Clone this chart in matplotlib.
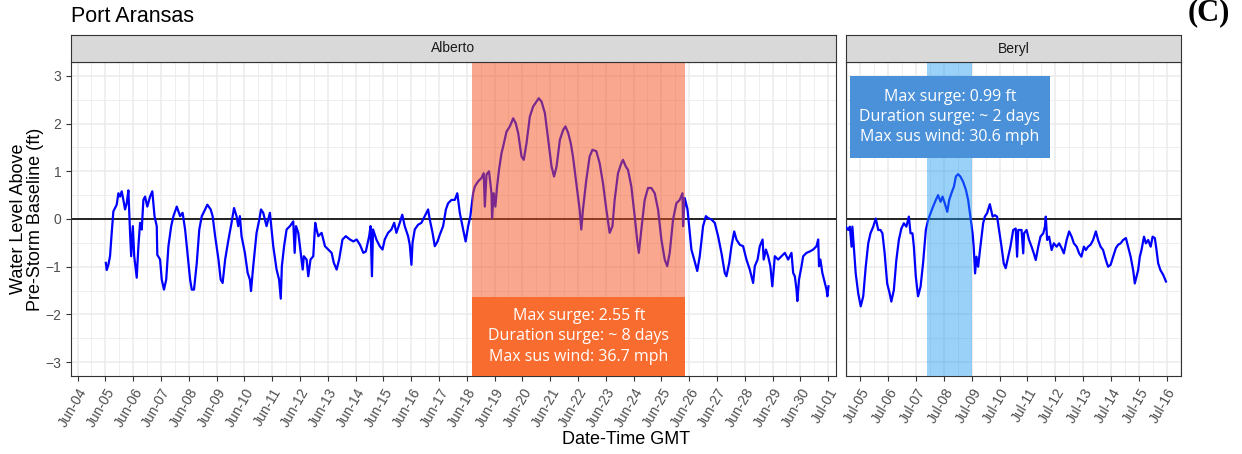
import numpy as np
import pandas as pd
import matplotlib
matplotlib.use("Agg")
import matplotlib.pyplot as plt
import matplotlib.dates as mdates

# water level above pre-storm baseline (ft)
# Alberto: time as fractional day of June 2024 (31 = Jul-01)
alberto_day = [5.02, 5.05, 5.11, 5.17, 5.23, 5.29, 5.41, 5.47, 5.53, 5.59, 5.65, 5.71, 5.77, 5.83, 5.89,
               5.93, 5.99, 6.04, 6.13, 6.19, 6.25, 6.31, 6.37, 6.43, 6.51, 6.61, 6.69, 6.77, 6.85, 6.87,
               6.97, 7.03, 7.11, 7.19, 7.27, 7.37, 7.45, 7.57, 7.69, 7.78, 7.87, 7.93, 8.05, 8.11, 8.19,
               8.29, 8.38, 8.47, 8.59, 8.67, 8.79, 8.86, 8.95, 9.07, 9.15, 9.22, 9.31, 9.43, 9.54, 9.63,
               9.72, 9.78, 9.84, 9.90, 10.02, 10.12, 10.20, 10.24, 10.32, 10.44, 10.54, 10.60, 10.68,
               10.74, 10.80, 10.92, 11.04, 11.16, 11.25, 11.31, 11.35, 11.43, 11.52, 11.64, 11.76, 11.81,
               11.86, 11.94, 12.00, 12.10, 12.14, 12.24, 12.30, 12.38, 12.48, 12.55, 12.60, 12.66, 12.78,
               12.90, 13.02, 13.14, 13.22, 13.32, 13.41, 13.53, 13.65, 13.80, 13.92, 14.04, 14.16, 14.28,
               14.37, 14.49, 14.54, 14.59, 14.63, 14.75, 14.87, 14.97, 15.05, 15.17, 15.29, 15.39, 15.47,
               15.59, 15.68, 15.77, 15.89, 15.95, 16.01, 16.05, 16.13, 16.25, 16.37, 16.49, 16.61, 16.67,
               16.77, 16.85, 16.95, 17.03, 17.15, 17.25, 17.33, 17.45, 17.57, 17.66, 17.75, 17.87, 17.96,
               18.05, 18.13, 18.23, 18.29, 18.41, 18.53, 18.61, 18.65, 18.71, 18.80, 18.89, 18.91, 18.97,
               19.03, 19.09, 19.16, 19.25, 19.31, 19.43, 19.55, 19.67, 19.76, 19.85, 19.97, 20.05, 20.15,
               20.27, 20.39, 20.51, 20.59, 20.69, 20.81, 20.93, 21.05, 21.14, 21.23, 21.35, 21.47, 21.55,
               21.65, 21.74, 21.82, 21.94, 22.06, 22.12, 22.18, 22.30, 22.42, 22.52, 22.66, 22.78, 22.90,
               23.02, 23.14, 23.24, 23.32, 23.44, 23.56, 23.62, 23.72, 23.80, 23.92, 24.04, 24.14, 24.19,
               24.28, 24.40, 24.52, 24.64, 24.76, 24.88, 25.00, 25.12, 25.21, 25.30, 25.42, 25.54, 25.66,
               25.76, 25.78, 25.84, 25.94, 26.02, 26.08, 26.18, 26.29, 26.38, 26.50, 26.60, 26.68, 26.80,
               26.92, 27.04, 27.16, 27.28, 27.34, 27.44, 27.52, 27.62, 27.70, 27.82, 27.94, 28.06, 28.18,
               28.30, 28.36, 28.46, 28.54, 28.64, 28.68, 28.76, 28.84, 28.92, 28.99, 29.08, 29.20, 29.32,
               29.44, 29.56, 29.68, 29.74, 29.80, 29.86, 29.89, 29.95, 30.04, 30.10, 30.22, 30.34, 30.46,
               30.58, 30.64, 30.67, 30.72, 30.79, 30.88, 30.94, 30.97, 31.01]
alberto_ft = [-0.92, -1.07, -0.96, -0.78, -0.29, 0.16, 0.30, 0.54, 0.47, 0.58, 0.40, 0.20, 0.33, 0.60, -0.29,
              -0.78, -0.15, -0.78, -1.23, -0.57, -0.08, -0.22, 0.40, 0.47, 0.26, 0.47, 0.58, 0.06, -0.15, -0.75,
              -0.85, -1.27, -1.48, -1.27, -0.57, -0.15, 0.06, 0.26, 0.06, 0.13, -0.22, -0.57, -1.27, -1.48, -1.48,
              -0.92, -0.22, 0.06, 0.20, 0.30, 0.20, 0.06, -0.36, -0.85, -1.27, -1.34, -0.85, -0.43, -0.08, 0.23,
              0.06, -0.15, 0.06, -0.36, -0.71, -1.13, -1.27, -1.51, -0.99, -0.29, -0.01, 0.20, 0.13,
              -0.01, -0.15, 0.13, -0.57, -1.06, -1.27, -1.67, -0.99, -0.57, -0.22, -0.15, -0.05, -0.71,
              -0.15, -0.29, -0.57, -1.06, -0.78, -0.85, -1.20, -0.85, -0.78, -0.08, -0.22, -0.36, -0.29,
              -0.57, -0.64, -0.71, -0.92, -1.06, -0.85, -0.43, -0.36, -0.43, -0.47, -0.43, -0.54, -0.71,
              -0.68, -0.36, -0.15, -1.20, -0.22, -0.43, -0.57, -0.64, -0.43, -0.29, -0.22, -0.08, -0.29,
              -0.08, 0.09, -0.15, -0.36, -0.54, -0.96, -0.50, -0.22, -0.12, -0.08, 0.06, 0.20, -0.01,
              -0.29, -0.57, -0.47, -0.33, -0.15, 0.20, 0.33, 0.40, 0.40, 0.54, 0.13, -0.22, -0.47,
              -0.15, 0.06, 0.54, 0.68, 0.79, 0.86, 0.96, 0.26, 0.93, 1.00, 0.54, 0.02, 0.54,
              0.26, 0.68, 1.03, 1.38, 1.52, 1.83, 1.94, 2.11, 2.01, 1.80, 1.31, 1.24, 1.59,
              2.15, 2.36, 2.46, 2.53, 2.46, 2.22, 1.66, 1.10, 0.89, 1.10, 1.66, 1.87, 1.94,
              1.80, 1.59, 1.31, 0.75, 0.20, -0.22, 0.20, 0.82, 1.31, 1.45, 1.42, 1.17, 0.75,
              0.20, -0.29, -0.15, 0.40, 0.96, 1.17, 1.24, 1.10, 1.03, 0.68, 0.06, -0.50, -0.71,
              -0.22, 0.40, 0.65, 0.65, 0.54, 0.20, -0.43, -0.85, -0.99, -0.71, -0.01, 0.33, 0.40,
              0.54, -0.15, 0.44, 0.20, -0.29, -0.64, -0.85, -1.09, -0.78, -0.15, 0.06, 0.02, -0.01,
              -0.08, -0.36, -0.71, -1.13, -1.20, -0.92, -0.57, -0.26, -0.43, -0.54, -0.57, -0.85, -1.06,
              -1.34, -0.99, -0.85, -0.57, -0.43, -0.85, -0.64, -0.78, -0.99, -1.41, -0.78, -0.85, -0.78,
              -0.71, -0.85, -0.71, -1.13, -1.20, -1.48, -1.72, -1.27, -0.99, -0.78, -0.71, -0.68, -0.64,
              -0.57, -0.43, -0.99, -0.85, -1.13, -1.34, -1.48, -1.62, -1.41]

# Beryl: time as fractional day of July 2024
beryl_day = [4.47, 4.56, 4.62, 4.68, 4.71, 4.76, 4.83, 4.92, 5.01, 5.10, 5.19, 5.28, 5.36, 5.46, 5.55,
             5.64, 5.72, 5.79, 5.87, 5.96, 6.05, 6.11, 6.20, 6.29, 6.38, 6.47, 6.56, 6.65, 6.74, 6.80,
             6.87, 6.92, 6.99, 7.07, 7.16, 7.25, 7.35, 7.43, 7.52, 7.61, 7.71, 7.79, 7.88, 7.95, 8.03,
             8.12, 8.19, 8.27, 8.36, 8.43, 8.51, 8.59, 8.69, 8.79, 8.87, 8.95, 9.03, 9.07, 9.12, 9.17,
             9.23, 9.31, 9.41, 9.47, 9.55, 9.65, 9.75, 9.83, 9.91, 9.98, 10.07, 10.15, 10.22, 10.31,
             10.39, 10.49, 10.58, 10.63, 10.67, 10.79, 10.85, 10.88, 10.97, 11.06, 11.15, 11.23, 11.30,
             11.39, 11.47, 11.57, 11.63, 11.66, 11.71, 11.78, 11.87, 11.95, 12.05, 12.14, 12.23, 12.31,
             12.41, 12.50, 12.59, 12.67, 12.77, 12.86, 12.94, 13.03, 13.10, 13.18, 13.27, 13.36, 13.46,
             13.54, 13.63, 13.72, 13.82, 13.90, 13.99, 14.08, 14.18, 14.26, 14.35, 14.44, 14.54, 14.62,
             14.71, 14.80, 14.86, 14.92, 14.98, 15.04, 15.10, 15.19, 15.26, 15.34, 15.43, 15.50, 15.58,
             15.64, 15.70, 15.78, 15.88, 15.98]
beryl_ft = [-0.16, -0.23, -0.16, -0.58, -0.16, -0.58, -1.14, -1.56, -1.83, -1.62, -1.00, -0.51, -0.30, -0.16, 0.01,
            -0.23, -0.23, -0.30, -0.72, -1.35, -1.56, -1.73, -1.49, -0.86, -0.44, -0.20, -0.09, -0.16, 0.05, -0.30,
            -0.30, -0.58, -1.21, -1.62, -1.42, -0.93, -0.23, -0.02, 0.12, 0.26, 0.40, 0.50, 0.36, 0.47, 0.33,
            0.15, 0.40, 0.54, 0.68, 0.89, 0.94, 0.89, 0.78, 0.61, 0.40, 0.05, -0.30, -0.58, -1.14, -0.79,
            -1.00, -0.58, -0.09, 0.05, 0.12, 0.31, 0.05, 0.08, 0.05, -0.23, -0.58, -0.93, -1.03, -0.79,
            -0.58, -0.23, -0.20, -0.79, -0.23, -0.23, -0.72, -0.30, -0.23, -0.44, -0.58, -0.72, -0.86,
            -0.58, -0.37, -0.30, -0.16, 0.05, -0.44, -0.37, -0.65, -0.51, -0.58, -0.51, -0.61, -0.72,
            -0.44, -0.26, -0.37, -0.51, -0.58, -0.72, -0.79, -0.58, -0.65, -0.58, -0.54, -0.44, -0.26,
            -0.44, -0.58, -0.65, -0.86, -1.00, -0.96, -0.79, -0.61, -0.54, -0.51, -0.44, -0.40, -0.58,
            -0.79, -1.07, -1.35, -1.21, -1.07, -0.79, -0.65, -0.37, -0.51, -0.44, -0.58, -0.37, -0.40,
            -0.65, -0.93, -1.07, -1.17, -1.31]

# storm windows (fractional day of month) and annotations
alberto_window = (18.2, 25.86)
beryl_window = (7.38, 9.02)
alberto_text = "Max surge: 2.55 ft\nDuration surge: ~ 8 days\nMax sus wind: 36.7 mph"
beryl_text = "Max surge: 0.99 ft\nDuration surge: ~ 2 days\nMax sus wind: 30.6 mph"


def to_dt(day, month_start):
    return pd.Timestamp(month_start) + pd.to_timedelta(np.asarray(day) - 1, unit="D")


plt.rcParams["font.family"] = ["Liberation Sans", "DejaVu Sans"]
W, H = 1242, 454
fig = plt.figure(figsize=(W / 100, H / 100), dpi=100)


def px_axes(x0, y0, x1, y1):
    return fig.add_axes([x0 / W, 1 - y1 / H, (x1 - x0) / W, (y1 - y0) / H])


ax1 = px_axes(71, 62, 835.7, 376)
ax2 = px_axes(845.7, 62, 1181, 376)

panels = [
    (ax1, to_dt(alberto_day, "2024-06-01"), alberto_ft, "Alberto", "2024-06-01",
     alberto_window, (3.766, 31.27), "#F4511E", 0.5),
    (ax2, to_dt(beryl_day, "2024-07-01"), beryl_ft, "Beryl", "2024-07-01",
     beryl_window, (4.47, 16.52), "#1E9BF0", 0.45),
]

for ax, t, v, name, m0, win, xl, shade, alpha in panels:
    ax.plot(t, v, color="#0000FF", lw=1.6, zorder=3)
    ax.axhline(0, color="black", lw=1.2, zorder=2)
    ws = to_dt(list(win), m0)
    ax.axvspan(ws[0], ws[1], color=shade, alpha=alpha, lw=0, zorder=4)
    lims = to_dt(list(xl), m0)
    ax.set_xlim(lims[0], lims[1])
    ax.set_ylim(-3.29, 3.29)
    ax.set_yticks([-3, -2, -1, 0, 1, 2, 3])
    ax.set_yticks(np.arange(-3, 3.01, 0.5), minor=True)
    ax.xaxis.set_major_locator(mdates.DayLocator())
    ax.xaxis.set_minor_locator(mdates.HourLocator(byhour=12))
    ax.xaxis.set_major_formatter(mdates.DateFormatter("%b-%d"))
    ax.grid(which="major", color="#EBEBEB", lw=1.1, zorder=0)
    ax.grid(which="minor", color="#EBEBEB", lw=0.6, zorder=0)
    ax.set_axisbelow(True)
    for s in ax.spines.values():
        s.set_color("#333333")
        s.set_linewidth(0.8)
    ax.tick_params(which="major", length=3.5, width=0.8, color="#333333",
                   labelsize=10, labelcolor="#4D4D4D")
    ax.tick_params(which="minor", length=0)
    for lab in ax.get_xticklabels():
        lab.set_rotation(60)
        lab.set_ha("right")
        lab.set_va("top")
        lab.set_rotation_mode("anchor")

    # facet strip
    p = ax.get_position()
    st = fig.add_axes([p.x0, p.y1, p.width, 27 / H])
    st.set_facecolor("#D9D9D9")
    st.set_xticks([])
    st.set_yticks([])
    for s in st.spines.values():
        s.set_color("#333333")
        s.set_linewidth(0.8)
    st.text(0.5, 0.5, name, ha="center", va="center", fontsize=10, color="#1A1A1A",
            transform=st.transAxes)

ax2.tick_params(axis="y", labelleft=False, length=0)

# annotation boxes
a0, a1 = to_dt(list(alberto_window), "2024-06-01")
ax1.fill_between([a0, a1], -3.29, -1.64, color="#F96C2F", lw=0, zorder=5)
ax1.text(a0 + (a1 - a0) / 2, -2.46, alberto_text, ha="center", va="center", color="white",
         fontsize=11.5, family=["Open Sans", "DejaVu Sans"], linespacing=1.35, zorder=6)

b0, b1 = to_dt([4.62, 11.81], "2024-07-01")
ax2.fill_between([b0, b1], 1.28, 3.0, color="#4A91D9", lw=0, zorder=5)
ax2.text(b0 + (b1 - b0) / 2, 2.14, beryl_text, ha="center", va="center", color="white",
         fontsize=11.5, family=["Open Sans", "DejaVu Sans"], linespacing=1.35, zorder=6)

fig.text(71 / W, 1 - 22 / H, "Port Aransas", fontsize=15.5, ha="left", va="baseline")
fig.text(1209 / W, 1 - 20 / H, "(C)", fontsize=22, fontweight="bold", ha="center", va="baseline",
         family=["Liberation Serif", "DejaVu Serif"])
fig.text(27 / W, 1 - 219 / H, "Water Level Above\nPre-Storm Baseline (ft)", rotation=90,
         ha="center", va="center", fontsize=13, multialignment="center", linespacing=1.05)
fig.text(626 / W, 1 - 440 / H, "Date-Time GMT", ha="center", va="center", fontsize=13)

fig.savefig("out.png", dpi=100)
